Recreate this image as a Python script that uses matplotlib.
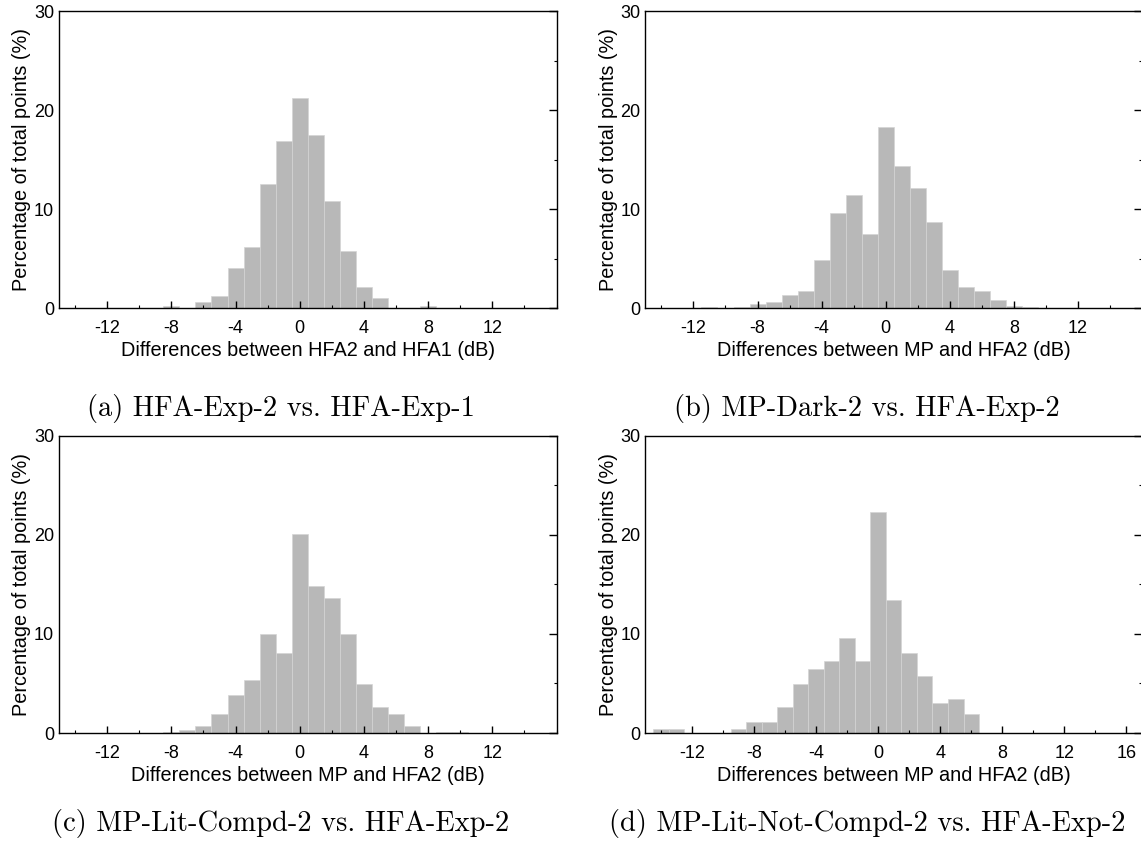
import matplotlib
matplotlib.use('Agg')
import matplotlib.pyplot as plt
from matplotlib.ticker import MultipleLocator

plt.rcParams['font.family'] = ['Liberation Sans', 'DejaVu Sans']
plt.rcParams['axes.unicode_minus'] = False

# bin centres (dB, bin width 1) and percentage of points in each bin
bins_a = [-8, -6, -5, -4, -3, -2, -1, 0, 1, 2, 3, 4, 5, 8]
pct_a = [0.2, 0.6, 1.2, 4.1, 6.2, 12.5, 16.9, 21.2, 17.5, 10.8, 5.8, 2.15, 1.0, 0.2]

bins_b = [-11, -9, -8, -7, -6, -5, -4, -3, -2, -1, 0, 1, 2, 3, 4, 5, 6, 7, 8, 9]
pct_b = [0.15, 0.15, 0.4, 0.64, 1.38, 1.78, 4.85, 9.66, 11.4, 7.54, 18.3, 14.4,
         12.15, 8.7, 3.87, 2.15, 1.75, 0.8, 0.2, 0.15]

bins_c = [-8, -7, -6, -5, -4, -3, -2, -1, 0, 1, 2, 3, 4, 5, 6, 7, 9, 10]
pct_c = [0.1, 0.35, 0.74, 1.9, 3.84, 5.35, 9.97, 8.08, 20.1, 14.8, 13.6, 9.97,
         4.98, 2.66, 1.9, 0.74, 0.1, 0.1]

bins_d = [-14, -13, -9, -8, -7, -6, -5, -4, -3, -2, -1, 0, 1, 2, 3, 4, 5, 6]
pct_d = [0.37, 0.37, 0.37, 1.1, 1.14, 2.66, 4.98, 6.5, 7.27, 9.6, 7.27, 22.26,
         13.47, 8.05, 5.76, 3.06, 3.43, 1.92]

xlabels = ['Differences between HFA2 and HFA1 (dB)',
           'Differences between MP and HFA2 (dB)',
           'Differences between MP and HFA2 (dB)',
           'Differences between MP and HFA2 (dB)']
captions = ['(a) HFA-Exp-2 vs. HFA-Exp-1',
            '(b) MP-Dark-2 vs. HFA-Exp-2',
            '(c) MP-Lit-Compd-2 vs. HFA-Exp-2',
            '(d) MP-Lit-Not-Compd-2 vs. HFA-Exp-2']
xticks_short = [-12, -8, -4, 0, 4, 8, 12]
xticks_long = [-12, -8, -4, 0, 4, 8, 12, 16]

W, H = 1141, 841
fig = plt.figure(figsize=(W / 100, H / 100), dpi=100)

# axes boxes in pixels: left, top, right, bottom (right column runs off the page)
boxes = [(59, 11, 556.6, 308.3), (645.4, 11, 1142, 308.3),
         (59, 435.7, 556.6, 733), (645.4, 435.7, 1142, 733)]
xlims = [(-15, 16), (-15, 16), (-15, 16), (-15, 17)]
data = [(bins_a, pct_a), (bins_b, pct_b), (bins_c, pct_c), (bins_d, pct_d)]
ticks = [xticks_short, xticks_short, xticks_short, xticks_long]

for i in range(4):
    l, t, r, b = boxes[i]
    ax = fig.add_axes([l / W, (H - b) / H, (r - l) / W, (b - t) / H])
    x, y = data[i]
    ax.bar(x, y, width=1.0, color='#b8b8b8', edgecolor='#d4d4d4', linewidth=0.5)
    ax.set_xlim(*xlims[i])
    ax.set_ylim(0, 30)
    ax.set_xticks(ticks[i])
    ax.xaxis.set_minor_locator(MultipleLocator(2))
    ax.set_yticks([0, 10, 20, 30])
    ax.yaxis.set_minor_locator(MultipleLocator(5))

    ax.tick_params(axis='x', which='both', direction='in', top=False, labelsize=13, pad=8.5)
    ax.tick_params(axis='x', which='major', length=5.3, width=1.0)
    ax.tick_params(axis='x', which='minor', length=2.4, width=0.8)
    ax.tick_params(axis='y', which='both', direction='in', left=False, right=True,
                   labelsize=13, pad=3.6)
    ax.tick_params(axis='y', which='major', length=6, width=1.0)
    ax.tick_params(axis='y', which='minor', length=2.5, width=0.8)
    for s in ax.spines.values():
        s.set_linewidth(1.0)

    ax.set_xlabel(xlabels[i], fontsize=14.3, labelpad=3)
    ax.set_ylabel('Percentage of total points (%)', fontsize=14.3)
    ax.yaxis.set_label_coords(-0.0557, 0.5)

# sub-figure captions in a Computer Modern face
cap_pos = [(281, 416), (867, 416), (281, 831), (867, 831)]
for (cx, cy), txt in zip(cap_pos, captions):
    fig.text(cx / W, (H - cy) / H, txt, ha='center', va='baseline',
             fontsize=20.5, family='cmr10')

fig.savefig('out.png', dpi=100)
